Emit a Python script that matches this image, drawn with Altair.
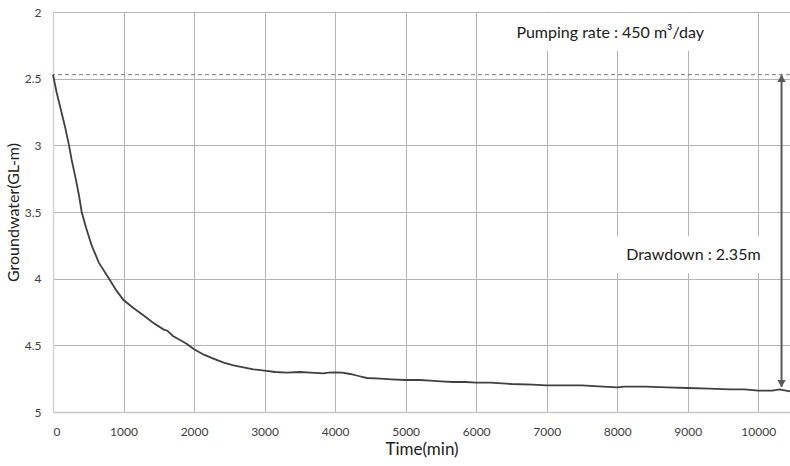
import altair as alt
import pandas as pd

# ---- data ----
time_min = [0, 50, 110, 170, 227, 265, 322, 370, 407, 470, 548, 650, 795, 900,
            1000, 1140, 1281, 1420, 1565, 1620, 1700, 1801, 1900, 2000, 2140,
            2274, 2420, 2558, 2700, 2841, 3000, 3150, 3314, 3500, 3650, 3834,
            3900, 4000, 4100, 4213, 4330, 4450, 4638, 4800, 5000, 5200, 5348,
            5500, 5674, 5850, 6000, 6200, 6500, 6800, 7000, 7300, 7500, 7800,
            8000, 8100, 8400, 8700, 9000, 9300, 9600, 9800, 10000, 10200,
            10300, 10450]
level_m = [2.47, 2.60, 2.73, 2.86, 3.00, 3.11, 3.25, 3.38, 3.50, 3.62, 3.75,
           3.88, 4.00, 4.09, 4.16, 4.22, 4.275, 4.33, 4.38, 4.39, 4.43, 4.46,
           4.49, 4.53, 4.57, 4.60, 4.63, 4.65, 4.665, 4.68, 4.69, 4.70, 4.705,
           4.70, 4.705, 4.71, 4.705, 4.703, 4.705, 4.715, 4.73, 4.745, 4.75,
           4.755, 4.76, 4.76, 4.765, 4.77, 4.775, 4.775, 4.78, 4.78, 4.79,
           4.795, 4.80, 4.80, 4.80, 4.81, 4.815, 4.81, 4.81, 4.815, 4.82,
           4.825, 4.83, 4.83, 4.84, 4.84, 4.83, 4.845]

x_ticks = [0, 1000, 2000, 3000, 4000, 5000, 6000, 7000, 8000, 9000, 10000]
y_ticks = [2, 2.5, 3, 3.5, 4, 4.5, 5]

static_level = [2.47]
arrow_time = [10330]
arrow_top = [2.475]
arrow_bottom = [4.81]

label_texts = ["Pumping rate : 450 m\u00b3/day", "Drawdown : 2.35m"]
label_time = [7900, 9080]
label_level = [2.16, 3.82]
label_size = [16, 16]
box_t1 = [6500, 7950]
box_t2 = [9500, 10150]
box_l1 = [2.01, 3.68]
box_l2 = [2.29, 3.96]

# ---- tables ----
df = pd.DataFrame({"t": time_min, "v": level_m})
arrow_df = pd.DataFrame({"t": arrow_time, "top": arrow_top, "bottom": arrow_bottom})
labels_df = pd.DataFrame({"text": label_texts, "t": label_time, "v": label_level,
                          "size": label_size})
boxes_df = pd.DataFrame({"t1": box_t1, "t2": box_t2, "l1": box_l1, "l2": box_l2})

FONT = "Lato"
xscale = alt.Scale(domain=[0, 10450], nice=False, zero=False)
yscale = alt.Scale(domain=[2, 5], reverse=True, nice=False, zero=False)

xaxis = alt.Axis(values=x_ticks, format="d", title="Time(min)", grid=True,
                 gridColor="#b4b4b4", gridWidth=1, ticks=False,
                 domainColor="#c8c8c8", domainWidth=1.5,
                 labelFont=FONT, labelFontSize=12, labelColor="#404040",
                 labelPadding=14, titleFont=FONT, titleFontSize=17,
                 titleFontWeight="normal", titleColor="#202020", titlePadding=4)
yaxis = alt.Axis(values=y_ticks, format="~g", title="Groundwater(GL-m)", grid=True,
                 gridColor="#b4b4b4", gridWidth=1, ticks=False,
                 domainColor="#d4d4d4", domainWidth=1.5,
                 labelFont=FONT, labelFontSize=12, labelColor="#404040",
                 labelPadding=12, titleFont=FONT, titleFontSize=16,
                 titleFontWeight="normal", titleColor="#202020", titlePadding=3)

base_line = alt.Chart(df).mark_line(color="#404040", strokeWidth=1.8).encode(
    x=alt.X("t:Q", scale=xscale, axis=xaxis),
    y=alt.Y("v:Q", scale=yscale, axis=yaxis),
)

boxes = alt.Chart(boxes_df).mark_rect(color="white").encode(
    x=alt.X("t1:Q", scale=xscale), x2="t2:Q",
    y=alt.Y("l1:Q", scale=yscale), y2="l2:Q",
)

dashed = alt.Chart(pd.DataFrame({"v": static_level})).mark_rule(
    color="#7a7a7a", strokeDash=[4, 3], strokeWidth=1
).encode(y=alt.Y("v:Q", scale=yscale))

arrow_shaft = alt.Chart(arrow_df).mark_rule(color="#595959", strokeWidth=2).encode(
    x=alt.X("t:Q", scale=xscale),
    y=alt.Y("top:Q", scale=yscale), y2="bottom:Q",
)
arrow_up = alt.Chart(arrow_df).mark_point(
    shape="triangle-up", filled=True, color="#595959", size=70, opacity=1, yOffset=3
).encode(x=alt.X("t:Q", scale=xscale), y=alt.Y("top:Q", scale=yscale))
arrow_down = alt.Chart(arrow_df).mark_point(
    shape="triangle-down", filled=True, color="#595959", size=70, opacity=1, yOffset=-3
).encode(x=alt.X("t:Q", scale=xscale), y=alt.Y("bottom:Q", scale=yscale))

texts = alt.Chart(labels_df).mark_text(
    font=FONT, color="#202020", align="center", baseline="middle"
).encode(
    x=alt.X("t:Q", scale=xscale), y=alt.Y("v:Q", scale=yscale),
    text="text:N", size=alt.Size("size:Q", scale=None, legend=None),
)

chart = alt.layer(boxes, dashed, base_line, arrow_shaft, arrow_up, arrow_down, texts).properties(
    width=737, height=400,
    autosize=alt.AutoSizeParams(type="none"),
    padding={"left": 53, "top": 12, "right": 0, "bottom": 54},
    background="white",
).configure_view(stroke=None)

chart.save("out.html", embed_options={"renderer": "svg", "actions": False})
